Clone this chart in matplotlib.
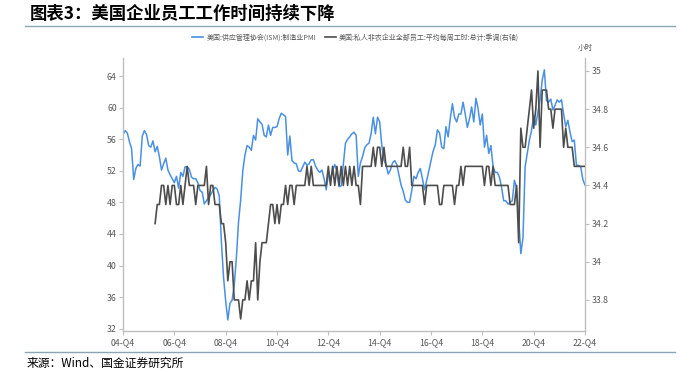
import numpy as np
import matplotlib
matplotlib.use('Agg')
import matplotlib.pyplot as plt
from matplotlib.lines import Line2D

plt.rcParams['font.family'] = ['Noto Sans CJK SC', 'DejaVu Sans']
plt.rcParams['axes.unicode_minus'] = False

# 月度数据：2004-10 至 2022-10
pmi = [
    56.6, 57.1, 56.8, 55.7, 54.8, 50.9, 52.3, 52.8, 52.6, 56.4, 57.1, 56.6,
    55.2, 55.0, 55.8, 54.4, 55.1, 53.8, 52.1, 52.9, 53.6, 52.1, 51.5, 51.0,
    50.5, 51.3, 49.8, 51.8, 51.3, 52.5, 52.5, 52.2, 51.2, 51.0, 51.0, 50.5,
    49.5, 49.3, 47.8, 48.2, 48.6, 49.0, 49.5, 49.9, 49.7, 48.8, 43.0, 38.5,
    35.5, 33.1, 35.2, 35.6, 37.5, 41.0, 45.5, 48.3, 52.0, 54.0, 55.2, 55.0,
    54.6, 56.5, 55.9, 58.6, 58.2, 57.9, 56.5, 56.3, 57.8, 56.5, 57.5, 57.5,
    57.6, 58.6, 59.3, 59.1, 58.9, 54.0, 56.4, 53.3, 53.0, 52.9, 52.0, 51.9,
    52.5, 53.1, 52.7, 52.9, 53.4, 53.4, 52.6, 52.1, 51.8, 52.1, 51.0, 49.6,
    51.5, 51.0, 52.0, 52.8, 52.0, 50.0, 50.1, 52.8, 55.5, 56.0, 56.3, 56.7,
    56.9, 56.5, 51.3, 53.0, 53.8, 54.9, 55.3, 55.5, 56.7, 58.8, 56.7, 58.8,
    58.2, 55.2, 53.4, 52.7, 51.6, 52.1, 53.0, 53.3, 52.8, 51.5, 50.2, 49.4,
    48.3, 48.0, 48.0, 49.5, 51.3, 51.0, 51.8, 52.3, 51.0, 49.6, 50.8, 52.0,
    53.3, 54.5, 55.3, 57.2, 56.8, 55.0, 54.8, 57.6, 56.3, 58.6, 60.5, 58.8,
    58.2, 59.2, 59.2, 60.7, 59.2, 57.5, 58.6, 60.1, 58.2, 61.2, 59.9, 57.8,
    59.2, 55.0, 56.5, 54.2, 55.2, 52.6, 51.8, 51.8, 51.2, 49.9, 48.2, 48.2,
    47.8, 48.0, 48.2, 50.8, 49.9, 46.0, 41.5, 43.5, 52.5, 54.2, 55.9, 57.1,
    59.0, 57.8, 59.5, 61.0, 63.5, 64.8, 60.9, 60.7, 61.1, 59.7, 60.3, 61.0,
    60.7, 61.0, 59.2, 57.6, 58.4, 56.9, 55.7, 55.9, 52.7, 52.7, 52.5, 50.9,
    50.2,
]

hours = [np.nan] * 15 + [
    34.2, 34.3, 34.3, 34.4, 34.4, 34.3, 34.4, 34.3, 34.4,
    34.4, 34.3, 34.3, 34.4, 34.3, 34.4, 34.5, 34.4, 34.4, 34.4, 34.3, 34.4,
    34.4, 34.4, 34.4, 34.5, 34.3, 34.4, 34.4, 34.3, 34.3, 34.3, 34.2, 34.2,
    34.1, 33.9, 34.0, 34.0, 33.8, 33.8, 33.8, 33.7, 33.8, 33.8, 33.9, 33.8,
    33.9, 33.9, 34.1, 33.8, 34.0, 34.1, 34.1, 34.1, 34.2, 34.3, 34.3, 34.2,
    34.3, 34.2, 34.3, 34.3, 34.4, 34.3, 34.4, 34.4, 34.3, 34.4, 34.4, 34.4,
    34.4, 34.4, 34.5, 34.4, 34.5, 34.4, 34.4, 34.4, 34.4, 34.4, 34.4, 34.4,
    34.5, 34.4, 34.5, 34.4, 34.5, 34.4, 34.5, 34.4, 34.5, 34.4, 34.5, 34.4,
    34.5, 34.4, 34.4, 34.3, 34.5, 34.5, 34.5, 34.5, 34.5, 34.6, 34.5, 34.6,
    34.6, 34.5, 34.6, 34.5, 34.5, 34.5, 34.5, 34.5, 34.5, 34.5, 34.5, 34.6,
    34.5, 34.5, 34.6, 34.4, 34.4, 34.4, 34.4, 34.4, 34.4, 34.3, 34.4, 34.4,
    34.4, 34.4, 34.4, 34.4, 34.3, 34.3, 34.4, 34.4, 34.4, 34.4, 34.4, 34.3,
    34.4, 34.4, 34.5, 34.4, 34.5, 34.5, 34.5, 34.5, 34.5, 34.5, 34.5, 34.5,
    34.5, 34.4, 34.5, 34.5, 34.4, 34.5, 34.4, 34.4, 34.4, 34.4, 34.4, 34.4,
    34.4, 34.3, 34.3, 34.3, 34.4, 34.1, 34.7, 34.6, 34.6, 34.7, 34.8, 34.9,
    34.7, 34.8, 35.0, 34.6, 34.9, 34.9, 34.9, 34.8, 34.8, 34.7, 34.8, 34.8,
    34.8, 34.8, 34.6, 34.7, 34.6, 34.6, 34.6, 34.5, 34.5, 34.5, 34.5, 34.5,
    34.5,
]

xticklabels = ['04-Q4', '06-Q4', '08-Q4', '10-Q4', '12-Q4',
               '14-Q4', '16-Q4', '18-Q4', '20-Q4', '22-Q4']
left_ticks = [32, 36, 40, 44, 48, 52, 56, 60, 64]
right_ticks = [33.8, 34.0, 34.2, 34.4, 34.6, 34.8, 35.0]

label_pmi = '美国:供应管理协会(ISM):制造业PMI'
label_hours = '美国:私人非农企业全部员工:平均每周工时:总计:季调(右轴)'

x = np.arange(len(pmi))
grey = '#595959'
spine_c = '#bfbfbf'

fig = plt.figure(figsize=(6.97, 3.72), dpi=100)
ax = fig.add_axes([0.1765, 0.1102, 0.6628, 0.7339])
ax2 = ax.twinx()

ax.plot(x, pmi, color='#4a90e2', lw=1.1, zorder=2)
ax2.plot(x, hours, color='#4d4d4d', lw=1.2, zorder=3)

ax.set_xlim(0, 216)
ax.set_ylim(31.7, 66.3)
ax2.set_ylim(33.637, 35.068)

ax.set_xticks(np.arange(0, 217, 24))
ax.set_xticklabels(xticklabels)
ax.set_yticks(left_ticks)
ax.set_yticklabels([str(v) for v in left_ticks])
ax2.set_yticks(right_ticks)
ax2.set_yticklabels(['%g' % v for v in right_ticks])

for a in (ax, ax2):
    a.spines['top'].set_visible(False)
    for s in a.spines.values():
        s.set_color(spine_c)
        s.set_linewidth(1.0)
    a.tick_params(labelsize=6.3, colors=grey, length=3, width=0.8, pad=1.5)
    a.tick_params(color=spine_c)
ax.spines['right'].set_visible(False)
ax2.spines['left'].set_visible(False)
ax2.spines['bottom'].set_visible(False)
ax.tick_params(axis='x', pad=2.5)

fig.text(585 / 697, 1 - 48 / 372, '小时', fontsize=5.5, color=grey, ha='center', va='center')

handles = [Line2D([], [], color='#4a90e2', lw=1.2), Line2D([], [], color='#4d4d4d', lw=1.2)]
fig.legend(handles, [label_pmi, label_hours], loc='center', bbox_to_anchor=(0.51, 0.90),
           ncol=2, frameon=False, fontsize=5, handlelength=1.6, columnspacing=1.2,
           handletextpad=0.5, labelcolor=grey)

# 标题与来源
fig.text(30 / 697, 1 - 14 / 372, '图表3：美国企业员工工作时间持续下降', fontsize=12.5,
         fontweight='bold', color='black', ha='left', va='center')
fig.add_artist(Line2D([25 / 697, 675 / 697], [1 - 26 / 372] * 2, color='#8ba5b5', lw=1.0))
fig.add_artist(Line2D([25 / 697, 675 / 697], [1 - 352 / 372] * 2, color='#8ba5b5', lw=1.0))
fig.text(27 / 697, 1 - 363 / 372, '来源：Wind、国金证券研究所', fontsize=8.5,
         color='black', ha='left', va='center')

fig.savefig('out.png', dpi=100)
